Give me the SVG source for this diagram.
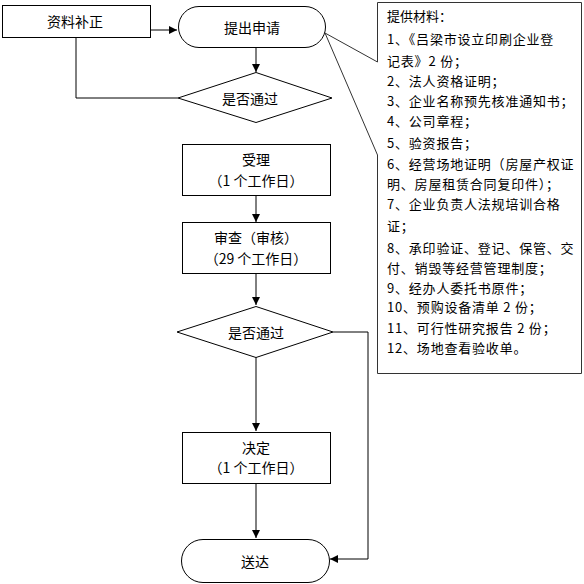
<svg xmlns="http://www.w3.org/2000/svg" width="584" height="584" viewBox="0 0 584 584">
<style>
.s{fill:#fff;stroke:#000;stroke-width:1}
.c{fill:none;stroke:#000;stroke-width:1}
.t{font-family:"Noto Sans CJK SC","Liberation Sans",sans-serif;font-size:14px;fill:#000;text-anchor:middle;dominant-baseline:central}
.m{font-family:"Noto Sans CJK SC","Liberation Sans",sans-serif;font-size:13px;fill:#000;letter-spacing:0.8px;dominant-baseline:central}
</style>
<defs>
<marker id="a" viewBox="0 0 10 10" refX="10" refY="5" markerWidth="8" markerHeight="8" markerUnits="userSpaceOnUse" orient="auto">
<path d="M0,0 L10,5 L0,10 Z" fill="#000"/>
</marker>
</defs>
<rect width="584" height="584" fill="#fff"/>
<g id="connectors">
<path class="c" d="M150.5,30 H177" marker-end="url(#a)"/>
<path class="c" d="M256,48 V72" marker-end="url(#a)"/>
<path class="c" d="M178,98 H76 V38"/>
<path class="c" d="M256,195 V222" marker-end="url(#a)"/>
<path class="c" d="M256,273 V305" marker-end="url(#a)"/>
<path class="c" d="M256,357 V431" marker-end="url(#a)"/>
<path class="c" d="M256,483 V538" marker-end="url(#a)"/>
<path class="c" d="M333,332 H368 V559 H330" marker-end="url(#a)"/>
</g>
<g id="n_buzheng">
<rect class="s" x="2.5" y="5.5" width="148" height="32"/>
<text class="t" x="75" y="21">资料补正</text>
</g>
<g id="n_tichu">
<rect class="s" x="178.5" y="6.5" width="147" height="41" rx="20.5" ry="20.5"/>
<text class="t" x="252" y="27">提出申请</text>
</g>
<g id="n_tongguo1">
<polygon class="s" points="256,72.5 332,98 256,122.5 178,98"/>
<text class="t" x="250" y="98">是否通过</text>
</g>
<g id="n_cailiao">
<path fill="#fff" stroke="#333" stroke-width="1" d="M377.5,2.5 H581.5 V373.5 H377.5 V155 L325,33 L377.5,62 Z"/>
<text class="t" x="387" y="15" style="text-anchor:start;font-size:13px">提供材料：</text>
<text class="m" x="387" y="38">1、《吕梁市设立印刷企业登</text>
<text class="m" x="387" y="60">记表》2 份；</text>
<text class="m" x="387" y="80">2、法人资格证明；</text>
<text class="m" x="387" y="100">3、企业名称预先核准通知书；</text>
<text class="m" x="387" y="120">4、公司章程；</text>
<text class="m" x="387" y="142">5、验资报告；</text>
<text class="m" x="387" y="163">6、经营场地证明（房屋产权证</text>
<text class="m" x="387" y="183">明、房屋租赁合同复印件）；</text>
<text class="m" x="387" y="203">7、企业负责人法规培训合格</text>
<text class="m" x="387" y="225">证；</text>
<text class="m" x="387" y="247">8、承印验证、登记、保管、交</text>
<text class="m" x="387" y="267">付、销毁等经营管理制度；</text>
<text class="m" x="387" y="287">9、经办人委托书原件；</text>
<text class="m" x="387" y="306">10、预购设备清单 2 份；</text>
<text class="m" x="387" y="327">11、可行性研究报告 2 份；</text>
<text class="m" x="387" y="347">12、场地查看验收单。</text>
</g>
<g id="n_shouli">
<rect class="s" x="182.5" y="144.5" width="148" height="51"/>
<text class="t" x="256" y="159">受理</text>
<text class="t" x="256" y="180">（1 个工作日）</text>
</g>
<g id="n_shencha">
<rect class="s" x="182.5" y="222.5" width="148" height="51"/>
<text class="t" x="256" y="237">审查（审核）</text>
<text class="t" x="256" y="258">（29 个工作日）</text>
</g>
<g id="n_tongguo2">
<polygon class="s" points="256,306.5 333,332 256,357.5 177,332"/>
<text class="t" x="256" y="332">是否通过</text>
</g>
<g id="n_jueding">
<rect class="s" x="182.5" y="432.5" width="148" height="51"/>
<text class="t" x="256" y="447">决定</text>
<text class="t" x="256" y="467">（1 个工作日）</text>
</g>
<g id="n_songda">
<rect class="s" x="181.5" y="539.5" width="148" height="43" rx="21.5" ry="21.5"/>
<text class="t" x="255" y="561">送达</text>
</g>
</svg>
